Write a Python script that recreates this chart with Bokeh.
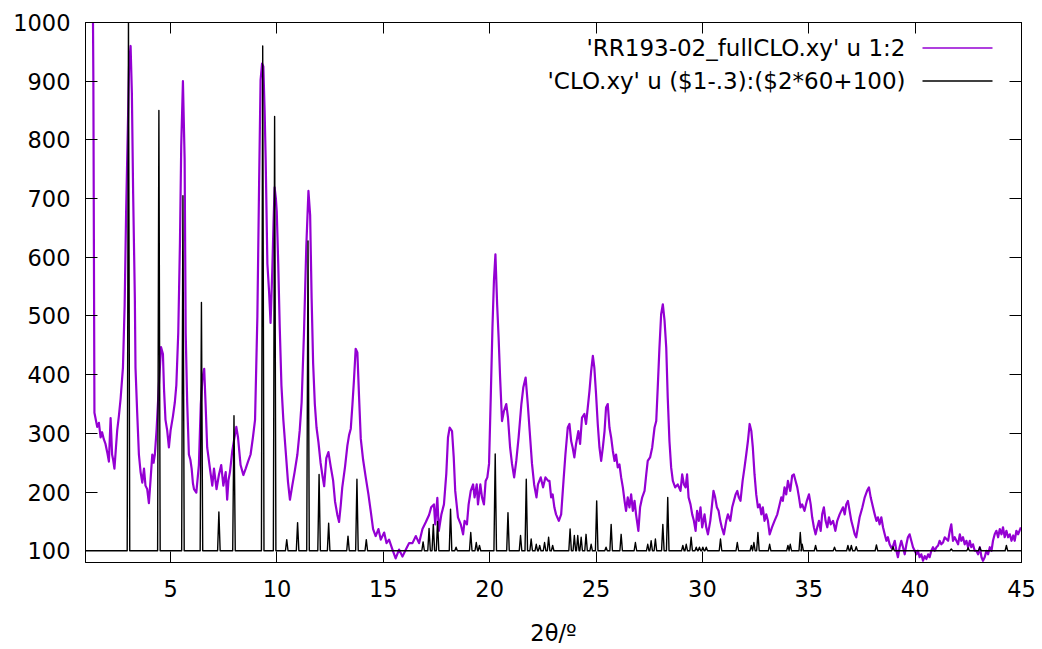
from bokeh.plotting import figure
from bokeh.models import LinearAxis, FixedTicker, Range1d, Label, BoxAnnotation
from bokeh.embed import file_html
from bokeh.resources import INLINE

# ---------------- data ----------------
# measured pattern 'RR193-02_fullCLO.xy' (2theta, counts)
sample_x = [
    1.30, 1.37, 1.42, 1.55, 1.63, 1.71, 1.78, 1.86, 1.94, 2.02, 2.10, 2.18, 2.25, 2.30, 2.36,
    2.42, 2.49, 2.57, 2.65, 2.76, 2.84, 2.91, 2.99, 3.05, 3.12, 3.18, 3.24, 3.32, 3.35, 3.43,
    3.51, 3.59, 3.67, 3.75, 3.82, 3.90, 3.98, 4.06, 4.14, 4.20, 4.26, 4.34, 4.45, 4.55, 4.64,
    4.69, 4.76, 4.84, 4.92, 5.00, 5.11, 5.20, 5.27, 5.36, 5.44, 5.50, 5.58, 5.66, 5.71, 5.78,
    5.86, 5.93, 5.99, 6.05, 6.10, 6.21, 6.33, 6.42, 6.50, 6.58, 6.65, 6.72, 6.85, 6.96, 7.04,
    7.16, 7.27, 7.38, 7.48, 7.59, 7.66, 7.72, 7.79, 7.90, 7.98, 8.09, 8.17, 8.29, 8.42, 8.53,
    8.64, 8.76, 8.87, 8.97, 9.08, 9.16, 9.23, 9.30, 9.36, 9.42, 9.47, 9.55, 9.63, 9.70, 9.78,
    9.84, 9.89, 9.95, 9.99, 10.06, 10.13, 10.21, 10.30, 10.41, 10.52, 10.61, 10.72, 10.83, 10.96, 11.07,
    11.16, 11.27, 11.38, 11.48, 11.56, 11.63, 11.70, 11.78, 11.86, 11.95, 12.05, 12.15, 12.22, 12.32, 12.42,
    12.53, 12.64, 12.73, 12.84, 12.92, 13.00, 13.07, 13.20, 13.31, 13.39, 13.47, 13.55, 13.62, 13.70, 13.78,
    13.86, 13.94, 14.05, 14.17, 14.30, 14.41, 14.52, 14.64, 14.77, 14.88, 15.04, 15.15, 15.27, 15.43, 15.58,
    15.74, 15.90, 16.06, 16.21, 16.37, 16.53, 16.68, 16.84, 17.00, 17.15, 17.25, 17.38, 17.44, 17.54, 17.61,
    17.73, 17.85, 17.96, 18.04, 18.12, 18.23, 18.31, 18.38, 18.51, 18.64, 18.75, 18.82, 18.93, 19.01, 19.11,
    19.22, 19.29, 19.39, 19.45, 19.56, 19.64, 19.73, 19.81, 19.89, 19.97, 20.05, 20.13, 20.20, 20.27, 20.35,
    20.42, 20.49, 20.58, 20.67, 20.78, 20.86, 20.96, 21.05, 21.15, 21.25, 21.36, 21.49, 21.58, 21.69, 21.79,
    21.88, 21.99, 22.09, 22.20, 22.27, 22.40, 22.51, 22.62, 22.75, 22.81, 22.89, 22.96, 23.04, 23.12, 23.25,
    23.36, 23.47, 23.56, 23.67, 23.75, 23.83, 23.90, 23.98, 24.06, 24.17, 24.25, 24.34, 24.45, 24.53, 24.61,
    24.69, 24.77, 24.85, 24.92, 25.00, 25.08, 25.16, 25.24, 25.32, 25.40, 25.47, 25.55, 25.63, 25.71, 25.79,
    25.87, 25.94, 26.02, 26.10, 26.18, 26.26, 26.34, 26.41, 26.49, 26.57, 26.65, 26.73, 26.81, 26.88, 26.99,
    27.07, 27.17, 27.28, 27.36, 27.43, 27.54, 27.64, 27.75, 27.83, 27.90, 27.98, 28.06, 28.14, 28.22, 28.30,
    28.37, 28.45, 28.53, 28.61, 28.72, 28.84, 28.97, 29.05, 29.13, 29.21, 29.28, 29.35, 29.44, 29.52, 29.60,
    29.68, 29.75, 29.83, 29.91, 29.99, 30.10, 30.18, 30.26, 30.37, 30.44, 30.52, 30.60, 30.68, 30.76, 30.84,
    30.91, 31.01, 31.12, 31.20, 31.31, 31.40, 31.48, 31.56, 31.64, 31.71, 31.79, 31.89, 31.98, 32.06, 32.14,
    32.22, 32.30, 32.37, 32.45, 32.53, 32.61, 32.69, 32.77, 32.84, 32.92, 33.00, 33.08, 33.16, 33.27, 33.39,
    33.52, 33.63, 33.71, 33.78, 33.86, 33.94, 34.02, 34.13, 34.22, 34.30, 34.38, 34.46, 34.54, 34.61, 34.69,
    34.80, 34.91, 35.01, 35.09, 35.16, 35.24, 35.32, 35.40, 35.48, 35.56, 35.63, 35.71, 35.79, 35.87, 35.95,
    36.03, 36.14, 36.25, 36.34, 36.45, 36.53, 36.61, 36.69, 36.76, 36.84, 36.92, 37.00, 37.08, 37.16, 37.23,
    37.31, 37.39, 37.52, 37.63, 37.74, 37.83, 37.91, 38.02, 38.10, 38.18, 38.25, 38.33, 38.41, 38.49, 38.57,
    38.65, 38.72, 38.80, 38.88, 38.96, 39.04, 39.12, 39.19, 39.27, 39.35, 39.43, 39.51, 39.59, 39.66, 39.74,
    39.82, 39.90, 39.98, 40.06, 40.13, 40.21, 40.29, 40.37, 40.45, 40.53, 40.61, 40.68, 40.76, 40.84, 40.92,
    41.00, 41.08, 41.15, 41.23, 41.31, 41.39, 41.47, 41.55, 41.63, 41.70, 41.78, 41.86, 41.94, 42.02, 42.10,
    42.17, 42.25, 42.33, 42.41, 42.49, 42.57, 42.64, 42.72, 42.80, 42.88, 42.96, 43.04, 43.12, 43.19, 43.27,
    43.35, 43.43, 43.51, 43.59, 43.66, 43.74, 43.82, 43.90, 43.98, 44.06, 44.13, 44.21, 44.29, 44.37, 44.45,
    44.53, 44.61, 44.68, 44.76, 44.84, 44.97,
]
sample_y = [
    1300, 900, 335, 311, 318, 293, 302, 290, 282, 268, 252, 326, 264, 255, 240,
    270, 305, 330, 359, 412, 518, 678, 820, 930, 960, 880, 708, 530, 412, 335,
    264, 234, 216, 240, 211, 205, 181, 222, 264, 250, 264, 305, 382, 447, 435,
    376, 323, 305, 276, 305, 329, 353, 382, 471, 625, 790, 900, 767, 471, 353,
    264, 255, 240, 215, 205, 199, 246, 350, 395, 410, 345, 276, 240, 211, 240,
    205, 229, 246, 211, 234, 187, 220, 234, 270, 288, 311, 293, 246, 229, 240,
    252, 264, 293, 323, 500, 724, 902, 930, 925, 850, 766, 589, 541, 488, 577,
    660, 719, 700, 678, 589, 482, 382, 323, 270, 217, 187, 211, 234, 264, 305,
    353, 471, 619, 713, 672, 530, 420, 350, 310, 285, 250, 225, 210, 258, 268,
    243, 220, 184, 161, 149, 178, 208, 243, 279, 297, 308, 350, 391, 444, 438,
    362, 291, 255, 226, 196, 167, 137, 125, 137, 119, 131, 113, 119, 102, 87,
    102, 90, 102, 113, 113, 125, 113, 137, 149, 161, 174, 179, 145, 190, 134,
    162, 179, 231, 293, 310, 304, 259, 202, 157, 145, 128, 151, 145, 179, 202,
    213, 191, 213, 179, 213, 191, 179, 219, 225, 248, 361, 480, 560, 605, 520,
    463, 395, 321, 338, 350, 327, 276, 248, 225, 253, 293, 350, 378, 395, 350,
    304, 248, 213, 191, 213, 225, 208, 225, 219, 219, 191, 196, 174, 162, 151,
    162, 219, 264, 310, 316, 287, 276, 259, 282, 304, 282, 327, 333, 316, 344,
    372, 406, 432, 412, 367, 316, 276, 253, 276, 304, 344, 350, 310, 293, 270,
    253, 264, 242, 247, 225, 208, 185, 168, 191, 174, 196, 168, 185, 162, 134,
    174, 191, 202, 230, 253, 259, 276, 310, 321, 378, 446, 503, 520, 492, 446,
    361, 287, 242, 219, 208, 213, 202, 230, 213, 208, 230, 191, 179, 162, 151,
    134, 168, 151, 174, 140, 162, 140, 128, 151, 174, 202, 191, 174, 168, 151,
    140, 128, 151, 162, 151, 174, 185, 196, 202, 191, 185, 219, 242, 264, 287,
    316, 304, 276, 230, 196, 174, 179, 162, 174, 151, 162, 151, 128, 140, 151,
    162, 179, 191, 185, 208, 196, 219, 202, 228, 230, 219, 208, 191, 174, 179,
    168, 185, 196, 179, 157, 140, 128, 140, 151, 134, 162, 174, 151, 140, 157,
    145, 151, 134, 151, 162, 168, 174, 162, 179, 185, 168, 151, 140, 128, 123,
    140, 157, 174, 191, 202, 208, 191, 174, 162, 151, 157, 145, 157, 140, 128,
    117, 123, 111, 105, 108, 117, 100, 89, 106, 117, 106, 94, 111, 123, 128,
    117, 106, 100, 94, 100, 89, 94, 83, 91, 86, 94, 89, 100, 106, 100,
    106, 109, 117, 111, 114, 123, 120, 117, 134, 145, 117, 123, 117, 111, 128,
    117, 123, 111, 117, 106, 117, 106, 111, 100, 100, 94, 106, 89, 83, 89,
    100, 94, 106, 100, 117, 128, 134, 123, 137, 128, 140, 123, 134, 123, 128,
    117, 126, 117, 134, 128, 140,
]

# calculated pattern 'CLO.xy' (shifted and scaled): peak positions and heights
calc_peak_x = [
    3.02, 4.45, 5.58, 6.45, 7.27, 7.98, 9.33, 9.89, 10.46, 10.97, 11.46, 11.98, 12.43, 13.34, 13.76,
    14.20, 16.87, 17.15, 17.35, 17.55, 18.16, 18.42, 19.11, 19.37, 19.52, 20.26, 20.86, 21.45, 21.72, 21.95,
    22.19, 22.35, 22.58, 22.77, 22.96, 23.78, 23.98, 24.14, 24.30, 24.53, 24.77, 25.03, 25.47, 25.71, 26.18,
    26.85, 27.43, 27.59, 27.79, 28.14, 28.37, 29.08, 29.24, 29.47, 29.71, 29.86, 30.02, 30.18, 30.85, 31.64,
    32.30, 32.42, 32.61, 33.16, 34.02, 34.13, 34.60, 34.69, 35.32, 36.21, 36.84, 37.00, 37.23, 38.18, 38.96,
    41.70, 42.49, 43.04, 44.29,
]
calc_peak_h = [
    1010, 850, 705, 523, 166, 330, 960, 840, 119, 148, 628, 230, 147, 125, 222,
    119, 115, 138, 145, 150, 171, 106, 131, 114, 109, 265, 165, 126, 222, 120,
    111, 109, 114, 123, 109, 137, 126, 126, 123, 128, 111, 185, 106, 145, 128,
    114, 111, 117, 120, 145, 191, 109, 111, 123, 106, 106, 106, 106, 120, 114,
    109, 114, 131, 111, 109, 111, 131, 111, 109, 106, 109, 109, 107, 110, 107,
    103, 105, 106, 109,
]
calc_baseline = 100

x_ticks = [5, 10, 15, 20, 25, 30, 35, 40, 45]
y_ticks = [100, 200, 300, 400, 500, 600, 700, 800, 900, 1000]
x_label = "2θ/º"
legend_labels = ["'RR193-02_fullCLO.xy' u 1:2", "'CLO.xy' u ($1-.3):($2*60+100)"]

# ---------------- styling ----------------
PURPLE = "#9400D3"
FONT = "DejaVu Sans"
FSIZE = "22.5px"

p = figure(width=1042, height=649, output_backend="svg", toolbar_location=None,
           x_range=Range1d(1, 45), y_range=Range1d(80, 1000),
           min_border_left=85, min_border_right=21, min_border_top=22, min_border_bottom=87)
p.background_fill_color = "white"
p.border_fill_color = "white"
p.outline_line_color = "black"
p.outline_line_width = 1
p.xgrid.grid_line_color = None
p.ygrid.grid_line_color = None

# measured pattern
p.line(sample_x, sample_y, line_color=PURPLE, line_width=2.2, line_join="round")

# calculated pattern drawn as narrow peaks on the baseline
hw = 0.06
bx = [1.0]
by = [calc_baseline]
for cx, ch in zip(calc_peak_x, calc_peak_h):
    bx += [cx - hw, cx, cx + hw]
    by += [calc_baseline, ch, calc_baseline]
bx.append(45.0)
by.append(calc_baseline)
p.line(bx, by, line_color="black", line_width=1.4, line_join="round")

# axes
def style_axis(ax, ticks, tick_len, labels=True):
    ax.ticker = FixedTicker(ticks=ticks)
    ax.axis_line_color = "black"
    ax.axis_line_width = 1
    ax.major_tick_in = tick_len
    ax.major_tick_out = 0
    ax.major_tick_line_color = "black"
    ax.major_tick_line_width = 1
    ax.minor_tick_line_color = None
    if labels:
        ax.major_label_text_font = FONT
        ax.major_label_text_font_size = FSIZE
        ax.major_label_text_color = "black"
    else:
        # mirrored ticks only (gnuplot style), no labels
        ax.major_label_overrides = {t: "" for t in ticks}
        ax.major_label_text_font_size = "1px"
        ax.major_label_standoff = 0

xa = p.xaxis[0]
style_axis(xa, x_ticks, 11)
xa.major_label_standoff = 17
xa.axis_label = x_label
xa.axis_label_text_font = FONT
xa.axis_label_text_font_size = FSIZE
xa.axis_label_text_font_style = "normal"
xa.axis_label_text_color = "black"
xa.axis_label_standoff = 20

ya = p.yaxis[0]
style_axis(ya, y_ticks, 12)
ya.major_label_standoff = 15

top_ax = LinearAxis()
style_axis(top_ax, x_ticks, 11, labels=False)
p.add_layout(top_ax, "above")
right_ax = LinearAxis()
style_axis(right_ax, y_ticks, 12, labels=False)
p.add_layout(right_ax, "right")

# gnuplot-style key: right-aligned text, line sample to its right
KEY_FSIZE = "23px"
key_colors = [PURPLE, "black"]
key_rows = [514.5, 481.5]
for lab, col, ky in zip(legend_labels, key_colors, key_rows):
    p.add_layout(Label(x=820, y=ky, x_units="screen", y_units="screen", text=lab,
                       text_align="right", text_baseline="middle",
                       text_font=FONT, text_font_size=KEY_FSIZE, text_color="black"))
    p.add_layout(BoxAnnotation(left=837, right=907, bottom=ky - 0.75, top=ky + 0.75,
                               left_units="screen", right_units="screen",
                               bottom_units="screen", top_units="screen",
                               fill_color=col, fill_alpha=1.0, line_color=None))

open("out.html", "w").write(file_html(p, INLINE))
